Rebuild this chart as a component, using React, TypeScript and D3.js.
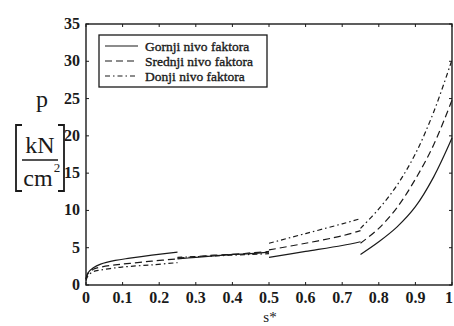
import React from 'react';
import * as d3 from 'd3';

// shared s* sample positions for each of the four test segments
const sSeg1 = [0, 0.005, 0.02, 0.04, 0.08, 0.12, 0.18, 0.25];
const sSeg2 = [0.25, 0.3, 0.35, 0.4, 0.45, 0.5];
const sSeg3 = [0.5, 0.6, 0.7, 0.75];
const sSeg4 = [0.75, 0.8, 0.85, 0.9, 0.95, 1];
const segmentS = [sSeg1, sSeg2, sSeg3, sSeg4];

// p values per segment
const gornji = [
  [0.8, 1.6, 2.3, 2.8, 3.3, 3.6, 4.0, 4.4],
  [3.5, 3.7, 3.9, 4.1, 4.2, 4.4],
  [3.7, 4.5, 5.3, 5.8],
  [4.1, 5.8, 7.8, 10.5, 14.5, 19.7],
];
const srednji = [
  [0.8, 1.5, 2.1, 2.4, 2.7, 2.9, 3.2, 3.5],
  [3.6, 3.8, 4.0, 4.1, 4.3, 4.5],
  [4.7, 5.6, 6.6, 7.3],
  [5.6, 7.6, 10.4, 14.2, 18.8, 24.8],
];
const donji = [
  [0.6, 1.2, 1.8, 2.0, 2.3, 2.5, 2.7, 3.0],
  [3.7, 3.8, 3.9, 4.0, 4.1, 4.2],
  [5.6, 6.9, 8.2, 8.9],
  [7.6, 10.2, 13.4, 17.6, 23.2, 30.2],
];

const seriesNames = ['Gornji nivo faktora', 'Srednji nivo faktora', 'Donji nivo faktora'];
const seriesValues = [gornji, srednji, donji];
const seriesDash = ['none', '7,4', '5,3,1.5,3'];

const xTicks = [0, 0.1, 0.2, 0.3, 0.4, 0.5, 0.6, 0.7, 0.8, 0.9, 1];
const yTicks = [0, 5, 10, 15, 20, 25, 30, 35];

const W = 454;
const H = 326;
const margin = { left: 86, right: 2, top: 24, bottom: 41 };
const serif: React.CSSProperties = { fontFamily: "'Liberation Serif', 'Times New Roman', serif" };
const ink = '#1a1a1a';
const legendRow = 15;

export default function App() {
  const x = d3.scaleLinear().domain([0, 1]).range([margin.left, W - margin.right]);
  const y = d3.scaleLinear().domain([0, 35]).range([H - margin.bottom, margin.top]);

  const line = d3
    .line<[number, number]>()
    .x(d => x(d[0]))
    .y(d => y(d[1]))
    .curve(d3.curveCatmullRom.alpha(0.5));

  const x0 = x(0);
  const x1 = x(1);
  const y0 = y(0);
  const y1 = y(35);

  return (
    <svg
      width={W}
      height={H}
      style={{ position: 'absolute', left: 0, top: 0, background: '#fff', ...serif }}
    >
      {/* frame */}
      <rect x={x0} y={y1} width={x1 - x0} height={y0 - y1} fill="none" stroke={ink} strokeWidth={1.4} />

      {/* ticks, inward on all four sides */}
      {xTicks.map(t => (
        <g key={'x' + t}>
          <line x1={x(t)} x2={x(t)} y1={y0} y2={y0 - 3} stroke={ink} />
          <line x1={x(t)} x2={x(t)} y1={y1} y2={y1 + 3} stroke={ink} />
          <text
            x={Math.min(x(t), W - 5)}
            y={303}
            textAnchor="middle"
            fontSize={16}
            fontWeight="bold"
            fill={ink}
            style={serif}
          >
            {t}
          </text>
        </g>
      ))}
      {yTicks.map(t => (
        <g key={'y' + t}>
          <line x1={x0} x2={x0 + 3} y1={y(t)} y2={y(t)} stroke={ink} />
          <line x1={x1} x2={x1 - 3} y1={y(t)} y2={y(t)} stroke={ink} />
          <text x={80} y={y(t) + 5} textAnchor="end" fontSize={16} fontWeight="bold" fill={ink} style={serif}>
            {t}
          </text>
        </g>
      ))}

      {/* series */}
      {seriesValues.map((segs, si) =>
        segs.map((vals, gi) => {
          const pts = vals.map((v, i) => [segmentS[gi][i], v] as [number, number]);
          return (
            <path
              key={si + '-' + gi}
              d={line(pts) || ''}
              fill="none"
              stroke={ink}
              strokeWidth={1.2}
              strokeDasharray={seriesDash[si]}
            />
          );
        })
      )}

      {/* legend */}
      <rect x={99} y={35} width={168} height={52} fill="#fff" stroke={ink} strokeWidth={1.3} />
      {seriesNames.map((name, i) => (
        <g key={name}>
          <line
            x1={105}
            x2={138}
            y1={46 + i * legendRow}
            y2={46 + i * legendRow}
            stroke={ink}
            strokeWidth={1.2}
            strokeDasharray={seriesDash[i]}
          />
          <text
            x={145}
            y={51 + i * legendRow}
            fontSize={13.5}
            fill={ink}
            stroke={ink}
            strokeWidth={0.35}
            style={serif}
          >
            {name}
          </text>
        </g>
      ))}

      {/* y axis label */}
      <text x={42} y={107} textAnchor="middle" fontSize={24} fill={ink} style={serif}>
        p
      </text>
      <path d="M22,125 L16,125 L16,191 L22,191" fill="none" stroke={ink} strokeWidth={1.8} />
      <path d="M58,125 L64,125 L64,191 L58,191" fill="none" stroke={ink} strokeWidth={1.8} />
      <text x={40} y={153} textAnchor="middle" fontSize={24} fill={ink} style={serif}>
        kN
      </text>
      <line x1={22} x2={58} y1={160} y2={160} stroke={ink} strokeWidth={1.4} />
      <text x={38} y={186} textAnchor="middle" fontSize={24} fill={ink} style={serif}>
        cm
      </text>
      <text x={57} y={172} textAnchor="middle" fontSize={13} fill={ink} style={serif}>
        2
      </text>

      {/* x axis label */}
      <text x={270} y={322} textAnchor="middle" fontSize={15} fill={ink} style={serif}>
        s*
      </text>
    </svg>
  );
}
